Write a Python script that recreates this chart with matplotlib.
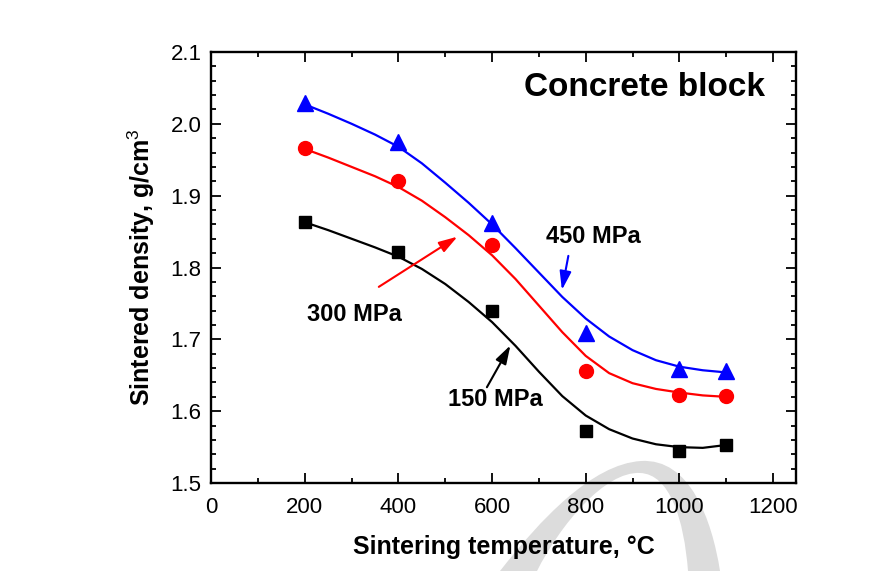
import matplotlib
matplotlib.use("Agg")
import matplotlib.pyplot as plt
from matplotlib.path import Path
from matplotlib.patches import PathPatch
from matplotlib.ticker import MultipleLocator

plt.rcParams["font.family"] = ["Liberation Sans", "DejaVu Sans"]
plt.rcParams["mathtext.fontset"] = "custom"
plt.rcParams["mathtext.rm"] = "Liberation Sans"

# -----------------------------
# Data
# -----------------------------
temp = [200, 400, 600, 800, 1000, 1100]
dens_150 = [1.864, 1.822, 1.740, 1.572, 1.544, 1.553]
dens_300 = [1.966, 1.921, 1.831, 1.656, 1.623, 1.621]
dens_450 = [2.029, 1.975, 1.862, 1.709, 1.659, 1.656]

# fitted curves, read every 50 degC
fit_temp = [200, 250, 300, 350, 400, 450, 500, 550, 600, 650,
            700, 750, 800, 850, 900, 950, 1000, 1050, 1100]
fit_150 = [1.863, 1.852, 1.840, 1.828, 1.815, 1.798, 1.777, 1.752, 1.724, 1.691,
           1.655, 1.621, 1.594, 1.575, 1.562, 1.554, 1.550, 1.549, 1.553]
fit_300 = [1.965, 1.953, 1.940, 1.927, 1.912, 1.893, 1.870, 1.845, 1.817, 1.784,
           1.747, 1.710, 1.677, 1.653, 1.639, 1.631, 1.626, 1.622, 1.620]
fit_450 = [2.027, 2.014, 2.000, 1.985, 1.968, 1.945, 1.918, 1.890, 1.860, 1.827,
           1.793, 1.759, 1.729, 1.704, 1.685, 1.671, 1.662, 1.657, 1.654]

# -----------------------------
# Figure
# -----------------------------
fig = plt.figure(figsize=(8.8, 5.71), dpi=100)
ax = fig.add_axes([0.240, 0.154, 0.665, 0.755])
ax.patch.set_alpha(0)

# grey watermark arc behind everything (pixel coords, y from top)
W, H = 880, 571
arc_px = [(500, 571), (540, 520), (592, 464), (641, 461),
          (690, 458), (712, 520), (720, 571),
          (688, 571),
          (684, 520), (670, 474), (640, 473),
          (605, 471), (560, 525), (537, 571),
          (500, 571)]
codes = [Path.MOVETO, Path.CURVE4, Path.CURVE4, Path.CURVE4,
         Path.CURVE4, Path.CURVE4, Path.CURVE4,
         Path.LINETO,
         Path.CURVE4, Path.CURVE4, Path.CURVE4,
         Path.CURVE4, Path.CURVE4, Path.CURVE4,
         Path.CLOSEPOLY]
verts = [(x / W, 1 - y / H) for x, y in arc_px]
fig.patches.append(PathPatch(Path(verts, codes), transform=fig.transFigure,
                             facecolor="#dcdcdc", edgecolor="none", zorder=-5))

ax.plot(fit_temp, fit_150, color="black", lw=1.6, zorder=2)
ax.plot(fit_temp, fit_300, color="#ff0000", lw=1.6, zorder=2)
ax.plot(fit_temp, fit_450, color="#0000ff", lw=1.6, zorder=2)

ax.plot(temp, dens_150, "s", color="black", ms=8.5, zorder=3)
ax.plot(temp, dens_300, "o", color="#ff0000", ms=10, zorder=3)
ax.plot(temp, dens_450, "^", color="#0000ff", ms=12, zorder=3)

# labels with arrows
ax.text(925, 2.051, "Concrete block", fontsize=24, fontweight="bold",
        ha="center", va="center")
ax.text(816, 1.843, "450 MPa", fontsize=17, fontweight="bold", ha="center", va="center")
ax.text(307, 1.735, "300 MPa", fontsize=17, fontweight="bold", ha="center", va="center")
ax.text(606, 1.616, "150 MPa", fontsize=17, fontweight="bold", ha="center", va="center")

arrow = "-|>,head_length=0.8,head_width=0.25"
ax.annotate("", xy=(748, 1.765), xytext=(764, 1.820),
            arrowprops=dict(arrowstyle=arrow, color="#0000ff", lw=1.5, mutation_scale=14))
ax.annotate("", xy=(531, 1.845), xytext=(353, 1.771),
            arrowprops=dict(arrowstyle=arrow, color="#ff0000", lw=1.5, mutation_scale=14))
ax.annotate("", xy=(642, 1.695), xytext=(586, 1.630),
            arrowprops=dict(arrowstyle=arrow, color="black", lw=1.5, mutation_scale=14))

# -----------------------------
# Axes styling
# -----------------------------
ax.set_xlim(0, 1250)
ax.set_ylim(1.5, 2.1)
ax.xaxis.set_major_locator(MultipleLocator(200))
ax.xaxis.set_minor_locator(MultipleLocator(100))
ax.yaxis.set_major_locator(MultipleLocator(0.1))
ax.yaxis.set_minor_locator(MultipleLocator(0.02))
ax.set_xticks([0, 200, 400, 600, 800, 1000, 1200])
ax.set_yticklabels([f"{v:.1f}" for v in ax.get_yticks()])

ax.tick_params(which="both", direction="in", top=True, right=True, width=1.3)
ax.tick_params(which="major", length=7, labelsize=16, pad=7)
ax.tick_params(axis="x", which="major", pad=10)
ax.tick_params(which="minor", length=3.5)
for s in ax.spines.values():
    s.set_linewidth(1.7)

ax.set_xlabel("Sintering temperature, °C", fontsize=18, fontweight="bold", labelpad=12)
ax.set_ylabel("Sintered density, g/cm$^3$", fontsize=18, fontweight="bold", labelpad=10)

fig.savefig("out.png", dpi=100)
